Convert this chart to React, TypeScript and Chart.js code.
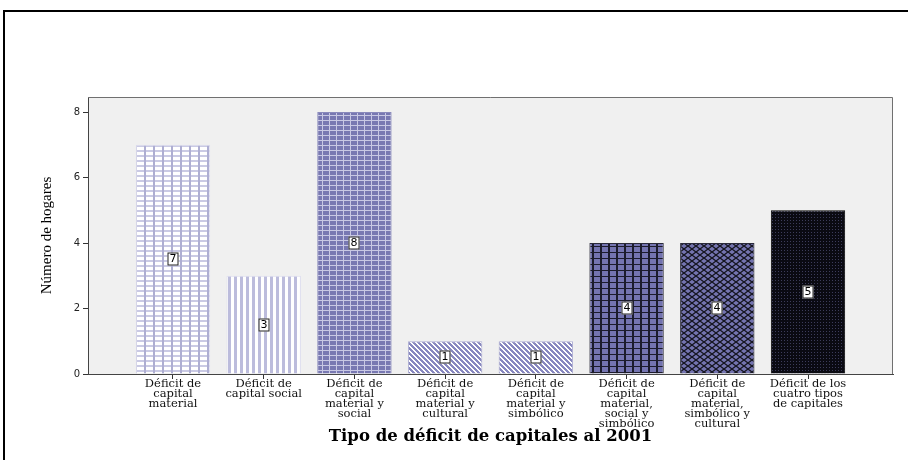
import React, { useEffect, useRef } from "react";
import { Chart, registerables } from "chart.js";

Chart.register(...registerables);

const categories: string[][] = [
  ["Déficit de", "capital", "material"],
  ["Déficit de", "capital social"],
  ["Déficit de", "capital", "material y", "social"],
  ["Déficit de", "capital", "material y", "cultural"],
  ["Déficit de", "capital", "material y", "simbólico"],
  ["Déficit de", "capital", "material,", "social y", "simbólico"],
  ["Déficit de", "capital", "material,", "simbólico y", "cultural"],
  ["Déficit de los", "cuatro tipos", "de capitales"],
];
const hogares = [7, 3, 8, 1, 1, 4, 4, 5];
const yTicks = [0, 2, 4, 6, 8];
const xTitle = "Tipo de déficit de capitales al 2001";
const yTitle = "Número de hogares";

function makePattern(w: number, h: number, draw: (c: CanvasRenderingContext2D) => void) {
  const cv = document.createElement("canvas");
  cv.width = w;
  cv.height = h;
  const c = cv.getContext("2d")!;
  draw(c);
  const ctx = document.createElement("canvas").getContext("2d")!;
  return ctx.createPattern(cv, "repeat")!;
}

function buildPatterns() {
  const p1 = makePattern(9, 5, (c) => {
    c.fillStyle = "#ffffff";
    c.fillRect(0, 0, 9, 5);
    c.fillStyle = "#cacae4";
    c.fillRect(0, 0, 9, 2);
    c.fillStyle = "#aeaed2";
    c.fillRect(0, 0, 2, 5);
  });
  const p2 = makePattern(6, 2, (c) => {
    c.fillStyle = "#ffffff";
    c.fillRect(0, 0, 6, 2);
    c.fillStyle = "#bcbcdc";
    c.fillRect(0, 0, 3, 2);
  });
  const p3 = makePattern(7, 5, (c) => {
    c.fillStyle = "#7878b2";
    c.fillRect(0, 0, 7, 5);
    c.fillStyle = "#c8c8e4";
    c.fillRect(0, 0, 7, 1);
    c.fillRect(0, 0, 1, 5);
  });
  const diag = makePattern(5, 5, (c) => {
    c.fillStyle = "#ffffff";
    c.fillRect(0, 0, 5, 5);
    c.fillStyle = "#8888bf";
    for (let y = 0; y < 5; y++) {
      for (let x = 0; x < 5; x++) {
        const d = (((x - y) % 5) + 5) % 5;
        if (d < 3) c.fillRect(x, y, 1, 1);
      }
    }
  });
  const p6 = makePattern(8, 6, (c) => {
    c.fillStyle = "#7474b0";
    c.fillRect(0, 0, 8, 6);
    c.fillStyle = "#1c1c2c";
    c.fillRect(0, 0, 8, 1);
    c.fillRect(0, 0, 2, 6);
  });
  const p7 = makePattern(8, 6, (c) => {
    c.fillStyle = "#7474b0";
    c.fillRect(0, 0, 8, 6);
    c.strokeStyle = "#15151f";
    c.lineWidth = 1.3;
    c.beginPath();
    c.moveTo(0, 0);
    c.lineTo(8, 6);
    c.moveTo(8, 0);
    c.lineTo(0, 6);
    c.stroke();
  });
  const p8 = makePattern(3, 3, (c) => {
    c.fillStyle = "#0a0a12";
    c.fillRect(0, 0, 3, 3);
    c.fillStyle = "#3c3c5a";
    c.fillRect(1, 1, 1, 1);
  });
  return [p1, p2, p3, diag, diag, p6, p7, p8];
}

const borderColors = ["#dcdcee", "#dcdcee", "#8a8abc", "#b0b0d4", "#b0b0d4", "#2a2a3a", "#2a2a3a", "#000000"];

const framePlugin = {
  id: "framePlugin",
  beforeDraw(chart: any) {
    const { ctx, chartArea: a } = chart;
    ctx.save();
    ctx.fillStyle = "#ffffff";
    ctx.fillRect(0, 0, chart.width, chart.height);
    ctx.fillStyle = "#f0f0f0";
    ctx.fillRect(a.left, a.top, a.right - a.left, a.bottom - a.top);
    ctx.strokeStyle = "#000";
    ctx.lineWidth = 2;
    ctx.beginPath();
    ctx.moveTo(4, chart.height);
    ctx.lineTo(4, 11);
    ctx.lineTo(chart.width, 11);
    ctx.stroke();
    ctx.restore();
  },
  afterDatasetsDraw(chart: any) {
    const { ctx } = chart;
    const meta = chart.getDatasetMeta(0);
    ctx.save();
    ctx.font = "11px 'DejaVu Sans'";
    ctx.textAlign = "center";
    ctx.textBaseline = "middle";
    meta.data.forEach((el: any, i: number) => {
      const x = Math.round(el.x);
      const y = Math.round((el.y + el.base) / 2);
      const t = String(hogares[i]);
      const w = Math.ceil(ctx.measureText(t).width) + 4;
      const h = 13;
      ctx.fillStyle = "#ffffff";
      ctx.fillRect(x - w / 2, y - h / 2, w, h);
      ctx.strokeStyle = "#222";
      ctx.lineWidth = 1;
      ctx.strokeRect(x - w / 2 + 0.5, y - h / 2 + 0.5, w - 1, h - 1);
      ctx.fillStyle = "#000";
      ctx.fillText(t, x, y + 0.5);
    });
    ctx.restore();
  },
  afterDraw(chart: any) {
    const { ctx, chartArea: a } = chart;
    ctx.save();
    ctx.strokeStyle = "#707070";
    ctx.lineWidth = 1;
    ctx.beginPath();
    ctx.moveTo(a.left, a.top + 0.5);
    ctx.lineTo(a.right - 0.5, a.top + 0.5);
    ctx.lineTo(a.right - 0.5, a.bottom);
    ctx.stroke();
    ctx.restore();
  },
};

export default function App() {
  const ref = useRef<HTMLCanvasElement | null>(null);
  useEffect(() => {
    if (!ref.current) return;
    const patterns = buildPatterns();
    const chart = new Chart(ref.current, {
      type: "bar",
      data: {
        datasets: [
          {
            data: hogares.map((v, i) => ({ x: i, y: v })) as any,
            backgroundColor: patterns as any,
            borderColor: borderColors,
            borderWidth: 1,
            categoryPercentage: 0.82,
            barPercentage: 1,
          },
        ],
      },
      options: {
        responsive: false,
        animation: false,
        devicePixelRatio: 1,
        layout: { padding: { left: 0, right: 15, top: 97, bottom: 0 } },
        plugins: { legend: { display: false }, tooltip: { enabled: false } },
        scales: {
          x: {
            type: "linear",
            offset: false,
            min: -0.937,
            max: 7.937,
            afterBuildTicks: (s: any) => {
              s.ticks = categories.map((_, i) => ({ value: i }));
            },
            afterFit: (s: any) => {
              s.height = 86;
            },
            grid: { offset: false, drawOnChartArea: false, drawTicks: true, tickLength: 5, color: "#333" },
            border: { color: "#444", width: 1 },
            ticks: {
              autoSkip: false,
              maxRotation: 0,
              minRotation: 0,
              padding: 0,
              color: "#111",
              font: { family: "'DejaVu Serif'", size: 11.5, lineHeight: 0.87 },
              callback: (v: any) => categories[v as number] ?? "",
            },
            title: {
              display: true,
              text: xTitle,
              color: "#000",
              font: { family: "'DejaVu Serif'", size: 16.5, weight: "bold" },
              padding: { top: 0, bottom: 13 },
            },
          } as any,
          y: {
            min: 0,
            max: 8.46,
            afterBuildTicks: (s: any) => {
              s.ticks = yTicks.map((v) => ({ value: v }));
            },
            afterFit: (s: any) => {
              s.width = 88;
            },
            grid: { drawOnChartArea: false, drawTicks: true, tickLength: 5, color: "#333" },
            border: { color: "#444", width: 1 },
            ticks: {
              padding: 3,
              color: "#222",
              font: { family: "'DejaVu Sans'", size: 10 },
            },
            title: {
              display: true,
              text: yTitle,
              color: "#000",
              font: { family: "'Liberation Serif'", size: 15 },
              padding: { top: 38, bottom: 0 },
            },
          } as any,
        },
      },
      plugins: [framePlugin],
    });
    return () => chart.destroy();
  }, []);
  return (
    <div style={{ position: "fixed", left: 0, top: 0, width: 908, height: 460 }}>
      <canvas ref={ref} width={908} height={460} style={{ display: "block" }} />
    </div>
  );
}
